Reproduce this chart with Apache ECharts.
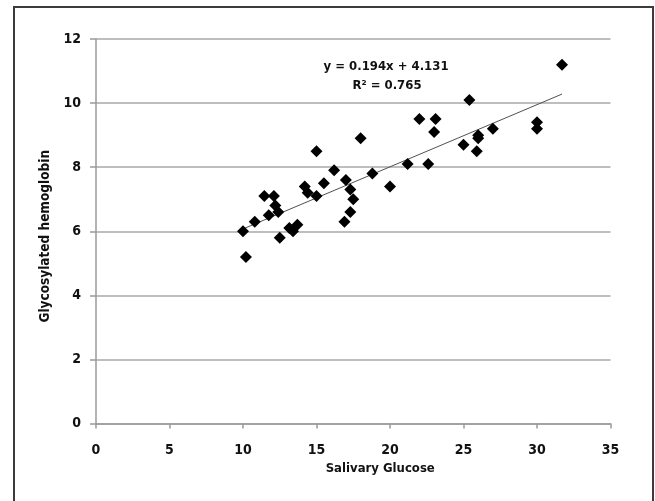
<!DOCTYPE html>
<html>
<head>
<meta charset="utf-8">
<script src="https://cdn.jsdelivr.net/npm/echarts@6/dist/echarts.min.js"></script>
<style>
html,body{margin:0;padding:0;background:#fff;}
#chart{width:655px;height:501px;}
</style>
</head>
<body>
<div id="chart"></div>
<script>
// Data
const salivaryGlucose = [10.0, 10.2, 10.8, 11.45, 12.1, 11.75, 12.2, 12.4, 12.5, 13.15, 13.4, 13.7,
  14.2, 14.4, 15.0, 15.0, 15.5, 16.2, 17.0, 17.3, 17.5, 17.3, 16.9, 18.0, 18.8, 20.0,
  31.7, 25.4, 22.0, 23.1, 23.0, 30.0, 30.0, 27.0, 26.0, 26.0, 25.0, 25.9, 21.2, 22.6];
const hemoglobin = [6.0, 5.2, 6.3, 7.1, 7.1, 6.5, 6.8, 6.6, 5.8, 6.1, 6.0, 6.2,
  7.4, 7.2, 8.5, 7.1, 7.5, 7.9, 7.6, 7.3, 7.0, 6.6, 6.3, 8.9, 7.8, 7.4,
  11.2, 10.1, 9.5, 9.5, 9.1, 9.4, 9.2, 9.2, 9.0, 8.9, 8.7, 8.5, 8.1, 8.1];
const trendSlope = [0.194];
const trendIntercept = [4.131];
const rSquared = [0.765];
const xTicks = [0, 5, 10, 15, 20, 25, 30, 35];
const yTicks = [0, 2, 4, 6, 8, 10, 12];
const xTitle = 'Salivary Glucose';
const yTitle = 'Glycosylated hemoglobin';

const points = salivaryGlucose.map((x, i) => [x, hemoglobin[i]]);
const xMin = Math.min(...salivaryGlucose), xMax = Math.max(...salivaryGlucose);
const trend = [xMin, xMax].map(x => [x, trendSlope[0] * x + trendIntercept[0]]);
const eqText = 'y = ' + trendSlope[0].toFixed(3) + 'x + ' + trendIntercept[0].toFixed(3);
const r2Text = 'R\u00B2 = ' + rSquared[0].toFixed(3);

const FONT = '"Liberation Sans Narrow", "DejaVu Sans Condensed", "Arial Narrow", sans-serif';

const chart = echarts.init(document.getElementById('chart'), null, {renderer: 'canvas'});
chart.setOption({
  animation: false,
  backgroundColor: '#ffffff',
  grid: {left: 96, right: 44.5, top: 39, bottom: 77.5, containLabel: false},
  xAxis: {
    type: 'value',
    min: xTicks[0], max: xTicks[xTicks.length - 1], interval: xTicks[1] - xTicks[0],
    name: xTitle, nameLocation: 'middle', nameGap: 38,
    nameTextStyle: {fontFamily: FONT, fontWeight: 'bold', fontSize: 13, color: '#111', padding: [0, 0, 0, 54]},
    axisLine: {show: true, lineStyle: {color: '#9a9a9a', width: 1.5}},
    axisTick: {show: true, inside: false, length: 5, lineStyle: {color: '#9a9a9a', width: 1.5}},
    axisLabel: {fontFamily: FONT, fontWeight: 'bold', fontSize: 14, color: '#111', margin: 20},
    splitLine: {show: false}
  },
  yAxis: {
    type: 'value',
    min: yTicks[0], max: yTicks[yTicks.length - 1], interval: yTicks[1] - yTicks[0],
    name: yTitle, nameLocation: 'middle', nameGap: 37,
    nameTextStyle: {fontFamily: FONT, fontWeight: 'bold', fontSize: 13.5, color: '#111', padding: [0, 10, 0, 0]},
    axisLine: {show: true, lineStyle: {color: '#9a9a9a', width: 1.5}},
    axisTick: {show: true, inside: false, length: 6, lineStyle: {color: '#9a9a9a', width: 1.5}},
    axisLabel: {fontFamily: FONT, fontWeight: 'bold', fontSize: 14, color: '#111', margin: 15},
    splitLine: {show: true, lineStyle: {color: '#a8a8a8', width: 1.5}}
  },
  series: [
    {
      type: 'line',
      data: trend,
      symbol: 'none',
      lineStyle: {color: '#505050', width: 1},
      z: 2,
      silent: true
    },
    {
      type: 'scatter',
      data: points,
      symbol: 'diamond',
      symbolSize: 12,
      itemStyle: {color: '#000000', opacity: 1},
      z: 3
    }
  ],
  graphic: [
    {
      type: 'rect',
      shape: {x: 14, y: 7, width: 639, height: 520},
      style: {fill: 'none', stroke: '#3c3c3c', lineWidth: 2},
      silent: true
    },
    {
      type: 'text', x: 386, y: 67,
      style: {text: eqText, font: 'bold 13px ' + FONT, fill: '#111', textAlign: 'center', textVerticalAlign: 'middle'}
    },
    {
      type: 'text', x: 387, y: 86,
      style: {text: r2Text, font: 'bold 13px ' + FONT, fill: '#111', textAlign: 'center', textVerticalAlign: 'middle'}
    }
  ]
});
</script>
</body>
</html>
